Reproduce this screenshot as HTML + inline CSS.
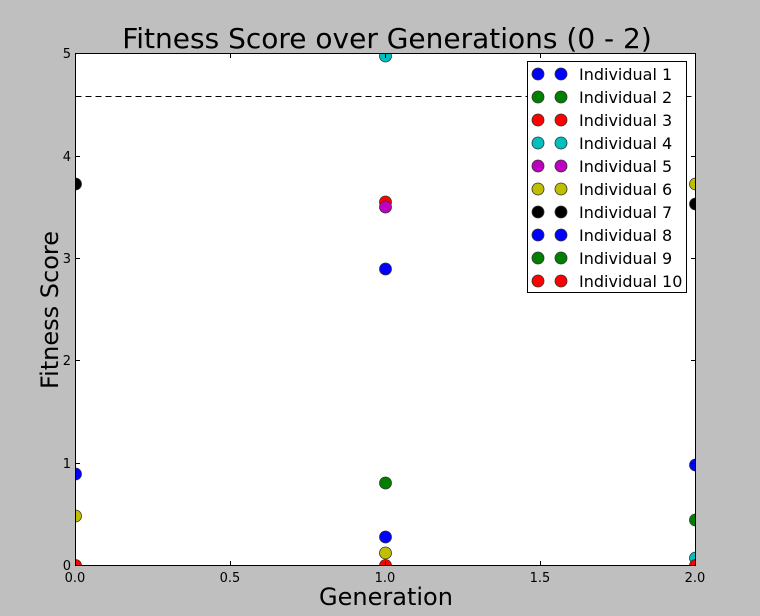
<!DOCTYPE html>
<html><head><meta charset="utf-8"><style>
html,body{margin:0;padding:0;background:#bfbfbf;}
svg{display:block;font-family:"DejaVu Sans","Liberation Sans",sans-serif;}
</style></head><body>
<svg width="760" height="616" viewBox="0 0 760 616" xmlns="http://www.w3.org/2000/svg">
<rect width="760" height="616" fill="#bfbfbf"/>
<defs><clipPath id="c"><rect x="75.5" y="53.5" width="620" height="512"/></clipPath></defs>
<rect x="75.5" y="53.5" width="620" height="512" fill="#fff"/>
<line x1="75.5" y1="96.5" x2="695.5" y2="96.5" stroke="#000" stroke-dasharray="6,4"/>
<g clip-path="url(#c)" stroke="#333" stroke-width="0.8">
<circle cx="75.5" cy="184" r="6" fill="#000"/>
<circle cx="75.5" cy="474" r="6" fill="#0000ff"/>
<circle cx="75.5" cy="516" r="6" fill="#bfbf00"/>
<circle cx="75.5" cy="565.5" r="6" fill="#ff0000"/>
<circle cx="385.5" cy="56" r="6" fill="#00bfbf"/>
<circle cx="385.5" cy="202" r="6" fill="#ff0000"/>
<circle cx="385.5" cy="207" r="6" fill="#bf00bf"/>
<circle cx="385.5" cy="269" r="6" fill="#0000ff"/>
<circle cx="385.5" cy="483" r="6" fill="#008000"/>
<circle cx="385.5" cy="537" r="6" fill="#0000ff"/>
<circle cx="385.5" cy="553" r="6" fill="#bfbf00"/>
<circle cx="385.5" cy="565.5" r="6" fill="#ff0000"/>
<circle cx="695.5" cy="184" r="6" fill="#bfbf00"/>
<circle cx="695.5" cy="204" r="6" fill="#000"/>
<circle cx="695.5" cy="465" r="6" fill="#0000ff"/>
<circle cx="695.5" cy="520" r="6" fill="#008000"/>
<circle cx="695.5" cy="558" r="6" fill="#00bfbf"/>
<circle cx="695.5" cy="565.5" r="6" fill="#ff0000"/>
</g>
<rect x="75.5" y="53.5" width="620" height="512" fill="none" stroke="#000" stroke-width="1"/>
<g stroke="#000" stroke-width="1">
<line x1="230.5" y1="565.5" x2="230.5" y2="561"/><line x1="230.5" y1="53.5" x2="230.5" y2="58"/>
<line x1="385.5" y1="565.5" x2="385.5" y2="561"/><line x1="385.5" y1="53.5" x2="385.5" y2="58"/>
<line x1="540.5" y1="565.5" x2="540.5" y2="561"/><line x1="540.5" y1="53.5" x2="540.5" y2="58"/>
<line x1="75.5" y1="156.5" x2="80" y2="156.5"/><line x1="695.5" y1="156.5" x2="691" y2="156.5"/>
<line x1="75.5" y1="258.5" x2="80" y2="258.5"/><line x1="695.5" y1="258.5" x2="691" y2="258.5"/>
<line x1="75.5" y1="360.5" x2="80" y2="360.5"/><line x1="695.5" y1="360.5" x2="691" y2="360.5"/>
<line x1="75.5" y1="463.5" x2="80" y2="463.5"/><line x1="695.5" y1="463.5" x2="691" y2="463.5"/>
</g>
<g font-size="13" fill="#000">
<text x="75" y="582" text-anchor="middle">0.0</text>
<text x="230" y="582" text-anchor="middle">0.5</text>
<text x="385" y="582" text-anchor="middle">1.0</text>
<text x="540" y="582" text-anchor="middle">1.5</text>
<text x="695" y="582" text-anchor="middle">2.0</text>
<text x="71" y="570" text-anchor="end">0</text>
<text x="71" y="468" text-anchor="end">1</text>
<text x="71" y="365" text-anchor="end">2</text>
<text x="71" y="263" text-anchor="end">3</text>
<text x="71" y="161" text-anchor="end">4</text>
<text x="71" y="58" text-anchor="end">5</text>
</g>
<text x="387" y="48" font-size="28" text-anchor="middle">Fitness Score over Generations (0 - 2)</text>
<text x="386" y="605" font-size="24" text-anchor="middle">Generation</text>
<text transform="translate(58,310) rotate(-90)" font-size="24" text-anchor="middle">Fitness Score</text>
<rect x="527.5" y="61.5" width="159" height="231" fill="#fff" stroke="#000"/>
<g stroke="#333" stroke-width="0.8">
<circle cx="538" cy="74" r="6" fill="#0000ff"/><circle cx="561" cy="74" r="6" fill="#0000ff"/>
<circle cx="538" cy="97" r="6" fill="#008000"/><circle cx="561" cy="97" r="6" fill="#008000"/>
<circle cx="538" cy="120" r="6" fill="#ff0000"/><circle cx="561" cy="120" r="6" fill="#ff0000"/>
<circle cx="538" cy="143" r="6" fill="#00bfbf"/><circle cx="561" cy="143" r="6" fill="#00bfbf"/>
<circle cx="538" cy="166" r="6" fill="#bf00bf"/><circle cx="561" cy="166" r="6" fill="#bf00bf"/>
<circle cx="538" cy="189" r="6" fill="#bfbf00"/><circle cx="561" cy="189" r="6" fill="#bfbf00"/>
<circle cx="538" cy="212" r="6" fill="#000"/><circle cx="561" cy="212" r="6" fill="#000"/>
<circle cx="538" cy="235" r="6" fill="#0000ff"/><circle cx="561" cy="235" r="6" fill="#0000ff"/>
<circle cx="538" cy="258" r="6" fill="#008000"/><circle cx="561" cy="258" r="6" fill="#008000"/>
<circle cx="538" cy="281" r="6" fill="#ff0000"/><circle cx="561" cy="281" r="6" fill="#ff0000"/>
</g>
<g font-size="16" fill="#000">
<text x="579" y="80">Individual 1</text>
<text x="579" y="103">Individual 2</text>
<text x="579" y="126">Individual 3</text>
<text x="579" y="149">Individual 4</text>
<text x="579" y="172">Individual 5</text>
<text x="579" y="195">Individual 6</text>
<text x="579" y="218">Individual 7</text>
<text x="579" y="241">Individual 8</text>
<text x="579" y="264">Individual 9</text>
<text x="579" y="287">Individual 10</text>
</g>
</svg>
</body></html>
